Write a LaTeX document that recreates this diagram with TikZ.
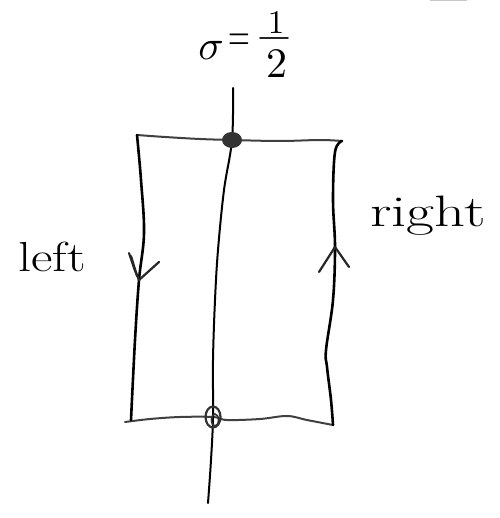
\documentclass[tikz,border=0pt]{standalone}
\usepackage{amsmath}
\begin{document}
\begin{tikzpicture}[x=1pt,y=-1pt,
  side/.style={line width=2.6pt,line cap=round,line join=round,black},
  rung/.style={line width=2pt,line cap=round,line join=round,black!75},
  mid/.style={line width=2pt,line cap=round,black},
  tick/.style={line width=2.2pt,line cap=round,line join=round,black!85},
  hand/.style={inner sep=0pt}]
\useasboundingbox (0,0) rectangle (499,518);
% faint scan mark
\draw[gray!45,line width=0.8pt] (430,0.6) -- (467,0.6);
% corners
\coordinate (tl) at (137,135);
\coordinate (tr) at (342,141);
\coordinate (bl) at (131,420);
\coordinate (br) at (333,425);
\coordinate (ctop) at (233,88);
\coordinate (cbot) at (208,503);
\coordinate (dtop) at (232,140);
\coordinate (dbot) at (213,417);
% top and bottom edges
\draw[rung] plot[smooth,tension=0.6] coordinates {(tl) (165,137) (200,139) (dtop) (280,141) (320,140) (tr)};
\draw[rung] plot[smooth,tension=0.6] coordinates {(125,422) (150,419) (180,417) (dbot) (227,420) (260,419) (287,416) (307,420) (br)};
% left side
\draw[side] plot[smooth,tension=0.6] coordinates {(tl) (141,180) (144,233) (139,280) (135,340) (bl)};
% right side
\draw[side] plot[smooth,tension=0.6] coordinates {(tr) (335,152) (333,200) (335,247) (333,300) (326,350) (327,367) (331,400) (br)};
% central line
\draw[mid] plot[smooth,tension=0.6] coordinates {(ctop) (dtop) (224,190) (218,250) (215,300) (213,360) (dbot) (211,460) (cbot)};
% arrow marks
\draw[tick] (129,253) -- (134,268) -- (139,280) -- (159,262);
\draw[tick] (131,256) -- (137,276);
\draw[tick] (319,272) -- (335,247) -- (349,267);
% top dot
\fill[black!80] (dtop) ellipse [x radius=10pt, y radius=8pt];
% bottom knot
\draw[line width=2.2pt,black!80] (dbot) ellipse [x radius=7.5pt, y radius=10.5pt];
\draw[line width=1.6pt,black!80] (215,420) ellipse [x radius=3.5pt, y radius=6pt];
% labels
\node[hand] (sig) at (211,50) {\scalebox{4.2}{$\sigma$}};
\node[hand] (eq) at (239,42) {\scalebox{2.8}[4.5]{$=$}};
\node[hand] (num) at (276,23) {\scalebox{3.3}{1}};
\node[hand] (den) at (277,64) {\scalebox{4.2}{2}};
\draw[line width=1.8pt,black!85,line cap=round] (260,38) -- (288,38);
\node[hand,anchor=base] (lft) at (52,271) {\scalebox{1.25}[1]{\fontsize{42}{42}\selectfont left}};
\node[hand,anchor=base] (rgt) at (428,226) {\scalebox{1.38}[1]{\fontsize{44}{44}\selectfont right}};
\end{tikzpicture}
\end{document}
